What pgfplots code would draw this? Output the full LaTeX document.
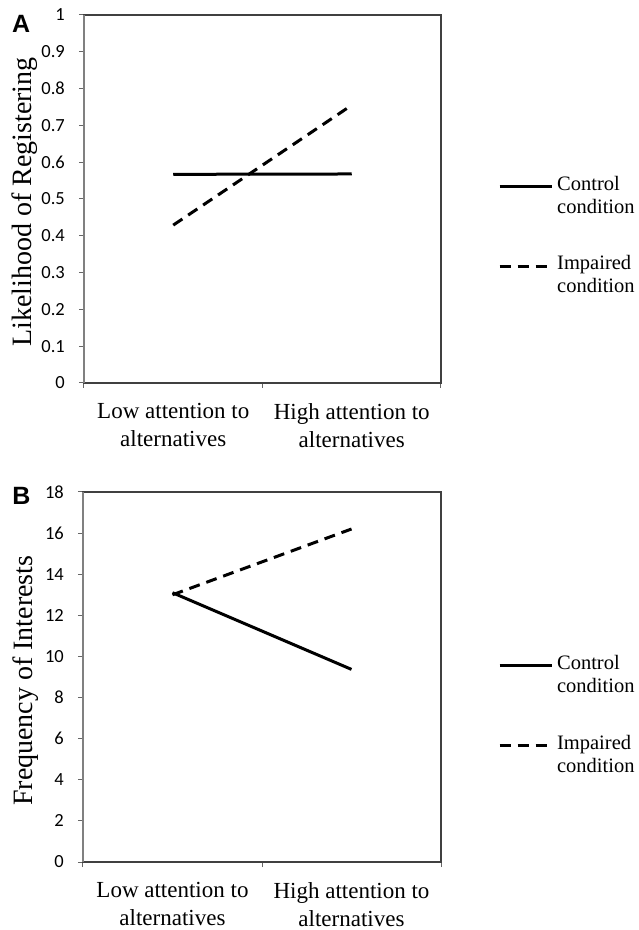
\documentclass[border=0pt]{standalone}
\usepackage{fontspec}
\setmainfont{Liberation Serif}
\newfontfamily\calibri{Carlito}
\newfontfamily\arial{Liberation Sans}
\usepackage{pgfplots}
\pgfplotsset{compat=1.18}

% tick labels in a box so that math mode cannot swallow the font
\newcommand\ytl[1]{\hbox{\fontsize{18.5}{20}\selectfont\calibri #1}}
\newcommand\letter[1]{\hbox{\fontsize{25}{26}\selectfont\arial\bfseries #1}}

\pgfplotsset{
  panel/.style={
    scale only axis,
    clip mode=individual,
    xmin=0, xmax=2,
    xtick={0,1,2},
    x tick label as interval,
    xticklabels={{Low attention to\\alternatives},{High attention to\\alternatives}},
    x tick label style={align=center, font=\fontsize{23}{28}\selectfont, inner sep=0pt, yshift=-15pt},
    yticklabel style={inner sep=0pt, xshift=-14pt},
    tick align=outside,
    tick pos=left,
    major tick length=5pt,
    every tick/.style={black!60, line width=1pt},
    axis line style={black!75, line width=1.4pt},
    ylabel style={font=\fontsize{28}{30}\selectfont, inner sep=0pt, anchor=north},
    legend style={draw=none, fill=none, inner sep=0pt, anchor=north west,
      nodes={inner sep=0pt}, column sep=4pt, row sep=41pt,
      cells={anchor=west, align=left, font=\fontsize{20.5}{23}\selectfont}},
    legend image code/.code={\draw[#1] (0pt,9pt) -- (52pt,9pt);},
    ctrl/.style={black, line width=3pt},
    imp/.style={black, line width=3pt, dash pattern=on 11pt off 7pt},
  }
}

\begin{document}
\begin{tikzpicture}
\useasboundingbox (0,0) rectangle (638pt,930pt);

% panel A
\begin{axis}[panel,
    at={(84pt,547pt)}, anchor=south west,
    width=357pt, height=368pt,
    ymin=0, ymax=1,
    ytick={0,0.1,0.2,0.3,0.4,0.5,0.6,0.7,0.8,0.9,1},
    yticklabels={\ytl{0},\ytl{0.1},\ytl{0.2},\ytl{0.3},\ytl{0.4},\ytl{0.5},\ytl{0.6},\ytl{0.7},\ytl{0.8},\ytl{0.9},\ytl{1}},
    ylabel={Likelihood of Registering},
    ylabel style={at={(axis description cs:-0.2017,0.492)}},
    legend style={at={(axis description cs:1.1597,0.563)}},
  ]
  \addplot[ctrl] coordinates {(0.5,0.567) (1.5,0.568)};
  \addlegendentry{Control\\condition}
  \addplot[imp] coordinates {(0.5,0.429) (1.5,0.755)};
  \addlegendentry{Impaired\\condition}
  \draw[gray, line width=1.4pt] (rel axis cs:0,0) -- (rel axis cs:0,1);
  \node[anchor=north west, inner sep=0pt] at (axis description cs:-0.2017,1.0) {\letter{A}};
\end{axis}

% panel B
\begin{axis}[panel,
    at={(83pt,68pt)}, anchor=south west,
    width=358pt, height=370pt,
    ymin=0, ymax=18,
    ytick={0,2,4,6,8,10,12,14,16,18},
    yticklabels={\ytl{0},\ytl{2},\ytl{4},\ytl{6},\ytl{8},\ytl{10},\ytl{12},\ytl{14},\ytl{16},\ytl{18}},
    ylabel={Frequency of Interests},
    ylabel style={at={(axis description cs:-0.198,0.49)}},
    legend style={at={(axis description cs:1.159,0.559)}},
  ]
  \addplot[ctrl] coordinates {(0.5,13.1) (1.5,9.37)};
  \addlegendentry{Control\\condition}
  \addplot[imp] coordinates {(0.5,13.0) (1.5,16.2)};
  \addlegendentry{Impaired\\condition}
  \draw[gray, line width=1.4pt] (rel axis cs:0,0) -- (rel axis cs:0,1);
  \node[anchor=north west, inner sep=0pt] at (axis description cs:-0.198,1.0135) {\letter{B}};
\end{axis}
\end{tikzpicture}
\end{document}
